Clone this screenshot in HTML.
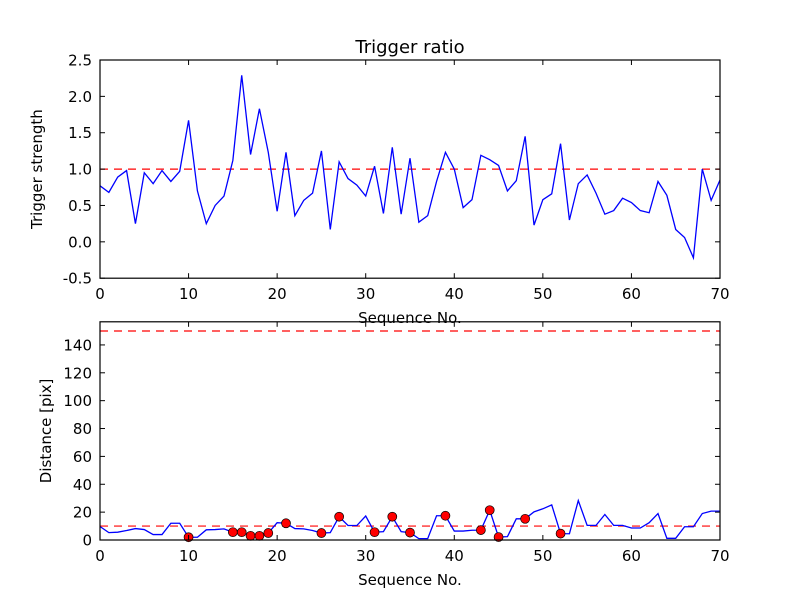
<!DOCTYPE html>
<html><head><meta charset="utf-8"><style>
html,body{margin:0;padding:0;background:#fff}
svg{display:block;font-family:"DejaVu Sans","Liberation Sans",sans-serif}
</style></head><body>
<svg id="chart" width="800" height="600" viewBox="0 0 800 600" xmlns="http://www.w3.org/2000/svg">
<rect width="800" height="600" fill="#fff"/>
</svg>
<script>
const seq = Array.from({length:71},(_, i)=>i);
const strength = [0.77,0.68,0.89,0.98,0.25,0.95,0.80,0.98,0.83,0.97,1.67,0.70,0.25,0.50,0.63,1.12,2.29,1.20,1.83,1.23,0.42,1.23,0.36,0.57,0.67,1.25,0.17,1.10,0.87,0.78,0.63,1.04,0.39,1.30,0.38,1.15,0.27,0.36,0.83,1.23,1.00,0.47,0.58,1.19,1.13,1.05,0.70,0.84,1.45,0.23,0.58,0.66,1.35,0.30,0.80,0.92,0.67,0.38,0.43,0.60,0.54,0.43,0.40,0.83,0.64,0.17,0.06,-0.22,1.00,0.57,0.85];
const distance = [9.7,5.3,5.6,6.8,8.2,7.5,3.9,3.9,12,12,2,2,7.3,7.5,8,5.6,5.6,3,3,5,12.4,12,8.2,8,6.8,5,5.3,16.7,10.4,10.4,17.2,5.6,6,16.7,6,5.3,1,1,17.4,17.4,6.4,6.4,7,7.1,21.4,2.1,2.4,15.2,15.2,20.2,22.4,25.2,4.6,4.5,28.3,10.5,10.5,18.3,10.5,10.5,8.6,8.6,12.4,19,1.2,1.2,9.5,9.5,19,20.7,20.7];
const markerIdx = [10,15,16,17,18,19,21,25,27,31,33,35,39,43,44,45,48,52];
const topTicks = [-0.5,0,0.5,1.0,1.5,2.0,2.5];
const botTicks = [0,20,40,60,80,100,120,140];
const xTicks = [0,10,20,30,40,50,60,70];
const topThreshold = 1.0;
const botThresholds = [10,150];

const NS="http://www.w3.org/2000/svg";
const svg=document.getElementById('chart');
function el(tag,attrs,parent){const e=document.createElementNS(NS,tag);for(const k in attrs)e.setAttribute(k,attrs[k]);(parent||svg).appendChild(e);return e;}
const L=100,R=720;
const xs=v=>L+(v-0)/(70-0)*(R-L);

function panel(name,top,bot,ymin,ymax,yTicks,fmt,data,thresholds,ylabel,markers){
  const ys=v=>bot-(v-ymin)/(ymax-ymin)*(bot-top);
  const g=el('g',{});
  
  
  const clipId=name+'-clip';
  const cp=el('clipPath',{id:clipId},g);el('rect',{x:L,y:top,width:R-L,height:bot-top},cp);
  thresholds.forEach(t=>{
    const l=el('line',{x1:L,x2:R,y1:ys(t),y2:ys(t),stroke:'#ff0000','stroke-width':1.2,'stroke-dasharray':'8,6','clip-path':`url(#${clipId})`},g);
    
    
  });
  const p=el('polyline',{points:data.map((v,i)=>xs(seq[i])+','+ys(v)).join(' '),fill:'none',stroke:'#0000ff','stroke-width':1.3,'clip-path':`url(#${clipId})`},g);
  
  
  if(markers){markers.forEach(i=>{
    const c=el('circle',{cx:xs(seq[i]),cy:ys(data[i]),r:4.5,fill:'#ff0000',stroke:'#000','stroke-width':0.7},g);
    
    
  });}
  const fr=el('rect',{x:L,y:top,width:R-L,height:bot-top,fill:'none',stroke:'#000','stroke-width':1.2},g);
  
  
  yTicks.forEach(t=>{
    const y=ys(t);
    el('line',{x1:L,x2:L+5,y1:y,y2:y,stroke:'#000'},g);
    el('line',{x1:R,x2:R-5,y1:y,y2:y,stroke:'#000'},g);
    const tx=el('text',{x:L-8,y:y+5.5,'text-anchor':'end','font-size':15},g);
    tx.textContent=fmt(t);
    
    
  });
  xTicks.forEach(t=>{
    const x=xs(t);
    el('line',{x1:x,x2:x,y1:bot,y2:bot-5,stroke:'#000'},g);
    el('line',{x1:x,x2:x,y1:top,y2:top+5,stroke:'#000'},g);
    const tx=el('text',{x:x,y:bot+21,'text-anchor':'middle','font-size':15},g);
    tx.textContent=String(t);
    
    
  });
  const xl=el('text',{x:(L+R)/2,y:bot+45,'text-anchor':'middle','font-size':15},g);
  xl.textContent='Sequence No.';
  
  
  const cy=(top+bot)/2;
  const yl=el('text',{x:0,y:0,'text-anchor':'middle','font-size':15,transform:`translate(${name==='top-panel'?42:51},${cy}) rotate(-90)`},g);
  yl.textContent=ylabel;
  
  
}
panel('top-panel',60,278.2,-0.5,2.5,topTicks,v=>v.toFixed(1),strength,[topThreshold],'Trigger strength',null);
panel('bottom-panel',321.8,540,0,156.6,botTicks,v=>String(v),distance,botThresholds,'Distance [pix]',markerIdx);
const title=el('text',{x:410,y:53,'text-anchor':'middle','font-size':18});
title.textContent='Trigger ratio';


</script>
</body></html>
